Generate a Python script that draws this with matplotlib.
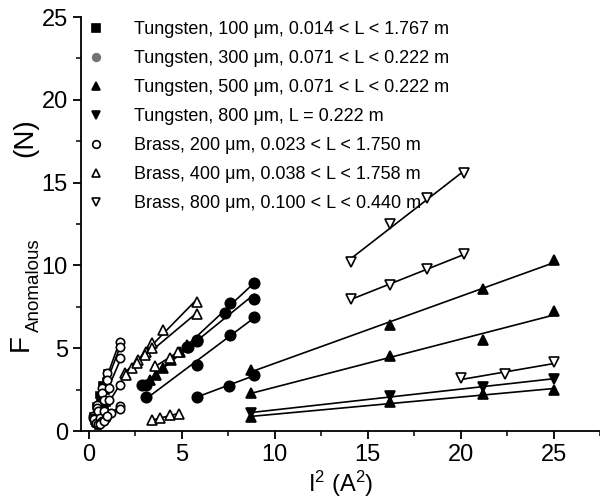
import numpy as np
import matplotlib
matplotlib.use('Agg')
import matplotlib.pyplot as plt
from matplotlib.lines import Line2D

plt.rcParams['font.family'] = ['Liberation Sans', 'DejaVu Sans']
plt.rcParams['mathtext.fontset'] = 'custom'
plt.rcParams['mathtext.rm'] = 'Liberation Sans'
plt.rcParams['mathtext.it'] = 'Liberation Sans'

# legend labels
labels = ['Tungsten, 100 \u03bcm, 0.014 < L < 1.767 m',
          'Tungsten, 300 \u03bcm, 0.071 < L < 0.222 m',
          'Tungsten, 500 \u03bcm, 0.071 < L < 0.222 m',
          'Tungsten, 800 \u03bcm, L = 0.222 m',
          'Brass, 200 \u03bcm, 0.023 < L < 1.750 m',
          'Brass, 400 \u03bcm, 0.038 < L < 1.758 m',
          'Brass, 800 \u03bcm, 0.100 < L < 0.440 m']

# data: I^2 (A^2) and F (N), one list of runs per wire
w100 = [([0.3, 0.45, 0.6, 0.75, 0.9, 1.0], [0.6, 1.2, 1.8, 2.4, 3.0, 3.5]),
        ([0.35, 0.5, 0.65, 0.8, 0.95], [0.5, 0.9, 1.4, 1.9, 2.4]),
        ([0.4, 0.55, 0.7, 0.85, 1.0], [0.4, 0.7, 1.0, 1.4, 1.7]),
        ([0.5, 0.6, 0.7, 0.8], [0.3, 0.45, 0.6, 0.8]),
        ([0.25, 0.4, 0.55, 0.7], [0.9, 1.5, 2.2, 2.8]),
        ([0.45, 0.55, 0.65, 0.75], [0.5, 0.6, 0.8, 1.0])]
w300 = [([2.85, 5.3, 5.8, 7.6, 8.9], [2.75, 5.1, 5.5, 7.75, 8.95]),
        ([3.05, 5.35, 5.8, 7.3, 8.9], [2.8, 5.1, 5.45, 7.1, 8.0]),
        ([3.1, 5.8, 7.6, 8.9], [2.07, 4.0, 5.8, 6.9]),
        ([5.8, 7.55, 8.9], [2.07, 2.72, 3.38])]
w500 = [([3.3, 3.6, 4.0, 4.4, 4.9, 5.3], [3.1, 3.4, 3.8, 4.3, 4.8, 5.2]),
        ([8.7, 16.2, 21.2, 25.0], [3.68, 6.4, 8.55, 10.3]),
        ([8.7, 16.2, 21.2, 25.0], [2.31, 4.53, 5.5, 7.26]),
        ([8.7, 16.2, 21.2, 25.0], [0.82, 1.73, 2.25, 2.47])]
w800 = [([8.7, 16.2, 21.2, 25.0], [1.07, 2.13, 2.68, 3.12])]
b200 = [([0.25, 0.45, 0.7, 1.0, 1.7], [0.9, 1.6, 2.6, 3.5, 5.4]),
        ([0.25, 0.45, 0.7, 1.0, 1.7], [0.8, 1.4, 2.3, 3.1, 5.1]),
        ([0.3, 0.5, 0.8, 1.1, 1.7], [0.7, 1.2, 1.9, 2.6, 4.4]),
        ([0.4, 0.6, 0.8, 1.1, 1.7], [0.5, 0.8, 1.2, 1.9, 2.8]),
        ([0.5, 0.7, 0.9, 1.2, 1.7], [0.4, 0.6, 0.8, 1.1, 1.5]),
        ([0.6, 0.8, 1.0, 1.7], [0.4, 0.6, 0.9, 1.3])]
b400 = [([1.95, 2.3, 2.65, 3.1, 3.4, 4.0, 5.8], [3.5, 3.8, 4.3, 4.8, 5.3, 6.1, 7.8]),
        ([2.0, 2.6, 3.0, 3.4, 5.8], [3.4, 4.1, 4.6, 5.0, 7.05]),
        ([3.55, 4.35, 4.8], [3.9, 4.4, 4.8]),
        ([3.4, 3.85, 4.35, 4.85], [0.65, 0.78, 0.95, 1.05])]
b800 = [([14.1, 16.2, 18.2, 20.2], [10.2, 12.5, 14.1, 15.55]),
        ([14.1, 16.2, 18.2, 20.2], [8.0, 8.8, 9.76, 10.7]),
        ([20.0, 22.4, 25.0], [3.18, 3.42, 4.14])]

groups = [(w100, 's', 'k', 5), (w300, 'o', 'k', 7.5), (w500, '^', 'k', 7),
          (w800, 'v', 'k', 7), (b200, 'o', 'w', 6), (b400, '^', 'w', 7),
          (b800, 'v', 'w', 7)]

fig = plt.figure(figsize=(6, 5), dpi=100)
ax = fig.add_axes([0.135, 0.138, 0.865, 0.828])

for runs, mk, fc, ms in groups:
    for xs, ys in runs:
        xs = np.array(xs)
        ys = np.array(ys)
        # straight fit line through each run
        p = np.polyfit(xs, ys, 1)
        ax.plot([xs.min(), xs.max()], np.polyval(p, [xs.min(), xs.max()]),
                color='k', lw=1.2, zorder=2)
        ax.plot(xs, ys, ls='none', marker=mk, ms=ms, mfc=fc, mec='k',
                mew=1.2, zorder=3)

handles = []
leg_cols = ['k', '0.45', 'k', 'k', 'w', 'w', 'w']
for (runs, mk, fc, ms), c in zip(groups, leg_cols):
    handles.append(Line2D([], [], ls='none', marker=mk, ms=5.5,
                          mfc=c, mec='k' if c != '0.45' else '0.45', mew=1.2))
ax.legend(handles, labels, loc='upper left', bbox_to_anchor=(-0.012, 1.02),
          frameon=False, fontsize=13.0, handlelength=1.0, handletextpad=1.6,
          labelspacing=0.66, borderaxespad=0.3)

ax.set_xlim(-0.42, 27.45)
ax.set_ylim(0, 25)
ax.set_xticks([0, 5, 10, 15, 20, 25])
ax.set_xticks([2.5, 7.5, 12.5, 17.5, 22.5, 27.5], minor=True)
ax.set_yticks([0, 5, 10, 15, 20, 25])
ax.set_yticks([2.5, 7.5, 12.5, 17.5, 22.5], minor=True)
ax.spines['top'].set_visible(False)
ax.spines['right'].set_visible(False)
ax.spines['left'].set_linewidth(1.3)
ax.spines['bottom'].set_linewidth(1.3)
ax.tick_params(which='major', direction='out', length=6, width=1.3, labelsize=17)
ax.tick_params(which='minor', direction='out', length=3.5, width=1.1)

ax.set_xlabel(r'I$^{2}$ (A$^{2}$)', fontsize=17, labelpad=2)

# y label in three pieces: F, large subscript, (N)
fig.text(0.034, 0.314, 'F', rotation=90, fontsize=20, ha='center', va='center')
fig.text(0.058, 0.43, 'Anomalous', rotation=90, fontsize=13.5, ha='center', va='center')
fig.text(0.042, 0.724, '(N)', rotation=90, fontsize=20, ha='center', va='center')

fig.savefig('out.png', dpi=100)
